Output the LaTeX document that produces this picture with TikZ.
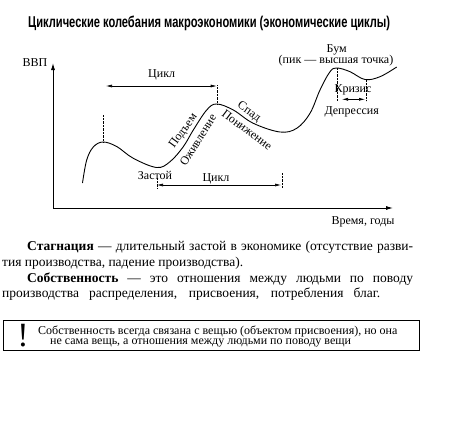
\documentclass[tikz,border=0pt]{standalone}
\usepackage{fontspec}
\setmainfont{Liberation Serif}
\newfontfamily\titlefont{Liberation Sans}
\usetikzlibrary{arrows.meta}
\begin{document}
\begin{tikzpicture}[x=1pt,y=-1pt,
  lbl/.style={font=\fontsize{12}{13}\selectfont, inner sep=0pt},
  body/.style={font=\fontsize{13.5}{15}\selectfont, inner sep=0pt, anchor=base west},
  note/.style={font=\fontsize{12}{12}\selectfont, inner sep=0pt, anchor=base west},
  dotline/.style={densely dotted, line width=0.4pt},
  ax/.style={line width=0.9pt, -{Latex[length=7pt,width=4pt]}},
  dim/.style={line width=0.6pt, {Latex[length=6pt,width=3pt]}-{Latex[length=6pt,width=3pt]}},
  curve/.style={line width=0.9pt}]
\useasboundingbox (0,0) rectangle (471,439);

% title
\node[inner sep=0pt, anchor=base west] (title) at (28,27.5)
  {\resizebox{362pt}{11.5pt}{\titlefont\bfseries Циклические колебания макроэкономики (экономические циклы)}};

% axes
\coordinate (O) at (53,208);
\coordinate (ytop) at (53,63);
\coordinate (xend) at (393,208);
\draw[ax] (O) -- (ytop);
\draw[ax] (O) -- (xend);
\node[lbl] (gdp) at (35,63) {ВВП};
\node[lbl] (time) at (363,222) {Время, годы};

% curve
\draw[curve] plot[smooth, tension=0.6] coordinates {
 (82.5,183) (86.7,160) (93.3,147) (103,142) (116.7,146.5) (133.3,158.3)
 (156.7,167.5) (170,161.7) (183.3,146.7) (193.3,130) (206.7,110) (216.7,104)
 (233.3,110) (253.3,123.3) (280,132) (296.7,128.3) (310,113.3) (320,90)
 (330,71.7) (337,68) (350,71.7) (365,79.5) (380,76.7) (396.7,67)};

% key points
\coordinate (p1) at (103,142);
\coordinate (p1t) at (103,115);
\coordinate (p2) at (216.7,104);
\coordinate (p2t) at (216.7,85);
\coordinate (b1) at (157,178);
\coordinate (b1b) at (157,188);
\coordinate (b2) at (281.7,173);
\coordinate (b2b) at (281.7,188);
\coordinate (p3) at (337,68);
\coordinate (p3b) at (337,101);
\coordinate (t3) at (366,80);
\coordinate (t3b) at (366,101);

\draw[dotline] (p1) -- (p1t);
\draw[dotline] (p2) -- (p2t);
\draw[dotline] (b1) -- (b1b);
\draw[dotline] (b2) -- (b2b);
\draw[dotline] (p3) -- (p3b);
\draw[dotline] (t3) -- (t3b);

% cycle arrows
\coordinate (c1a) at (106,86);
\coordinate (c1b) at (216.7,86);
\draw[dim] (c1a) -- (c1b);
\node[lbl] (cyc1) at (161.7,75) {Цикл};
\coordinate (c2a) at (157,185);
\coordinate (c2b) at (281,185);
\draw[dim] (c2a) -- (c2b);
\node[lbl] (cyc2) at (216,179) {Цикл};
\coordinate (k1) at (342,99.3);
\coordinate (k2) at (365,99.3);
\draw[dim] (k1) -- (k2);

% labels
\node[lbl] (boom) at (336.7,50) {Бум};
\node[lbl] (peak) at (336,60.5) {(пик — высшая точка)};
\node[lbl] (crisis) at (353,90) {Кризис};
\node[lbl] (depr) at (351.7,111.7) {Депрессия};
\node[lbl] (stag) at (155,175) {Застой};
\node[lbl, rotate=54] (rise) at (183.5,131) {Подъем};
\node[lbl, rotate=58] (revive) at (198,140) {Оживление};
\node[lbl, rotate=-35] (fall) at (249,112) {Спад};
\node[lbl, rotate=-37] (down) at (247,130) {Понижение};

% text block
\node[body] (l1) at (27,250) {\makebox[386pt][s]{\textbf{Стагнация} — длительный застой в экономике (отсутствие разви-}};
\node[body] (l2) at (2,266) {тия производства, падение производства).};
\node[body] (l3) at (27,282.5) {\makebox[386pt][s]{\textbf{Собственность} — это отношения между людьми по поводу}};
\node[body] (l4) at (2,297.5) {\makebox[378pt][s]{производства распределения, присвоения, потребления благ.}};

% note box
\node[draw, line width=0.8pt, anchor=north west, minimum width=416pt, minimum height=30pt, inner sep=0pt] (box) at (3,320) {};
\node[inner sep=0pt, font=\fontsize{34}{34}\selectfont] (excl) at (23,335.5) {!};
\node[note] (n1) at (38,334) {Собственность всегда связана с вещью (объектом присвоения), но она};
\node[note] (n2) at (50,344.5) {не сама вещь, а отношения между людьми по поводу вещи};
\end{tikzpicture}
\end{document}
